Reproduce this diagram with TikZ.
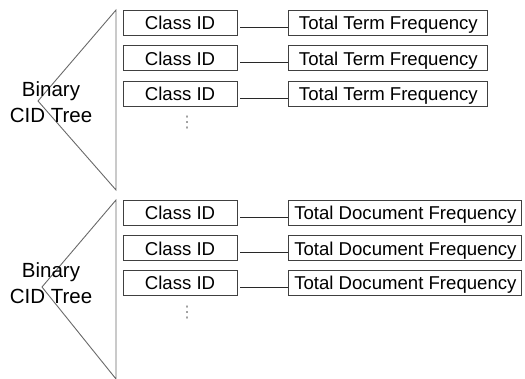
\documentclass[tikz,border=0pt]{standalone}
\usepackage{fontspec}
\setmainfont{Liberation Sans}
\newfontfamily\symfont{DejaVu Sans}
\usepackage{tikz}
\usetikzlibrary{positioning}
\definecolor{boxline}{RGB}{64,64,64}
\definecolor{treeline}{RGB}{105,105,105}
\definecolor{linkline}{RGB}{40,40,40}
\definecolor{dotcol}{RGB}{140,140,140}
\tikzset{
  idbox/.style={rectangle, draw=boxline, line width=0.9pt, fill=white,
                minimum width=114pt, minimum height=25pt, inner sep=0pt,
                font=\fontsize{18.6}{20}\selectfont, text height=13.3pt, text depth=0pt},
  freqbox/.style={idbox, minimum width=199pt},
  docbox/.style={idbox, minimum width=233pt},
  treeside/.style={draw=treeline, line width=0.9pt},
  treelbl/.style={align=center, inner sep=0pt, font=\fontsize{20.5}{26}\selectfont},
  link/.style={draw=linkline, line width=0.9pt, shorten <=3pt},
  moredots/.style={inner sep=0pt, text=dotcol, font=\symfont\fontsize{16}{16}\selectfont},
}

\begin{document}
\begin{tikzpicture}[x=1pt, y=-1pt, node distance=10pt and 51pt]
  \useasboundingbox (0,0) rectangle (525,379);

  % ---- term frequency tree ----
  \coordinate (top1) at (116,10);
  \coordinate (tip1) at (38,101);
  \coordinate (bot1) at (116,190);
  \draw[treeside] (top1) -- (tip1) -- (bot1) -- cycle;
  \node[treelbl] (tree1) at (51,102.3) {Binary\\CID Tree};

  \node[idbox] (cid1) at (180,22.5) {Class ID};
  \node[idbox, below=of cid1] (cid2) {Class ID};
  \node[idbox, below=of cid2] (cid3) {Class ID};
  \node[freqbox, right=of cid1] (ttf1) {Total Term Frequency};
  \node[freqbox, right=of cid2] (ttf2) {Total Term Frequency};
  \node[freqbox, right=of cid3] (ttf3) {Total Term Frequency};
  \node[moredots] (more1) at (187,123) {⋮};

  \draw[link] ([yshift=-4.5pt]cid1.east) -- ([yshift=-4.5pt]ttf1.west);
  \draw[link] ([yshift=-4.5pt]cid2.east) -- ([yshift=-4.5pt]ttf2.west);
  \draw[link] ([yshift=-4.5pt]cid3.east) -- ([yshift=-4.5pt]ttf3.west);

  % ---- document frequency tree ----
  \coordinate (top2) at (116,200);
  \coordinate (tip2) at (42,287);
  \coordinate (bot2) at (116,379);
  \draw[treeside] (top2) -- (tip2) -- (bot2) -- cycle;
  \node[treelbl] (tree2) at (51,283.4) {Binary\\CID Tree};

  \node[idbox] (cid4) at (180,212.5) {Class ID};
  \node[idbox, below=of cid4] (cid5) {Class ID};
  \node[idbox, below=9pt of cid5] (cid6) {Class ID};
  \node[docbox, right=of cid4] (tdf1) {Total Document Frequency};
  \node[docbox, right=of cid5] (tdf2) {Total Document Frequency};
  \node[docbox, right=of cid6] (tdf3) {Total Document Frequency};
  \node[moredots] (more2) at (187,313) {⋮};

  \draw[link] ([yshift=-4.5pt]cid4.east) -- ([yshift=-4.5pt]tdf1.west);
  \draw[link] ([yshift=-4.5pt]cid5.east) -- ([yshift=-4.5pt]tdf2.west);
  \draw[link] ([yshift=-4.5pt]cid6.east) -- ([yshift=-4.5pt]tdf3.west);
\end{tikzpicture}
\end{document}
